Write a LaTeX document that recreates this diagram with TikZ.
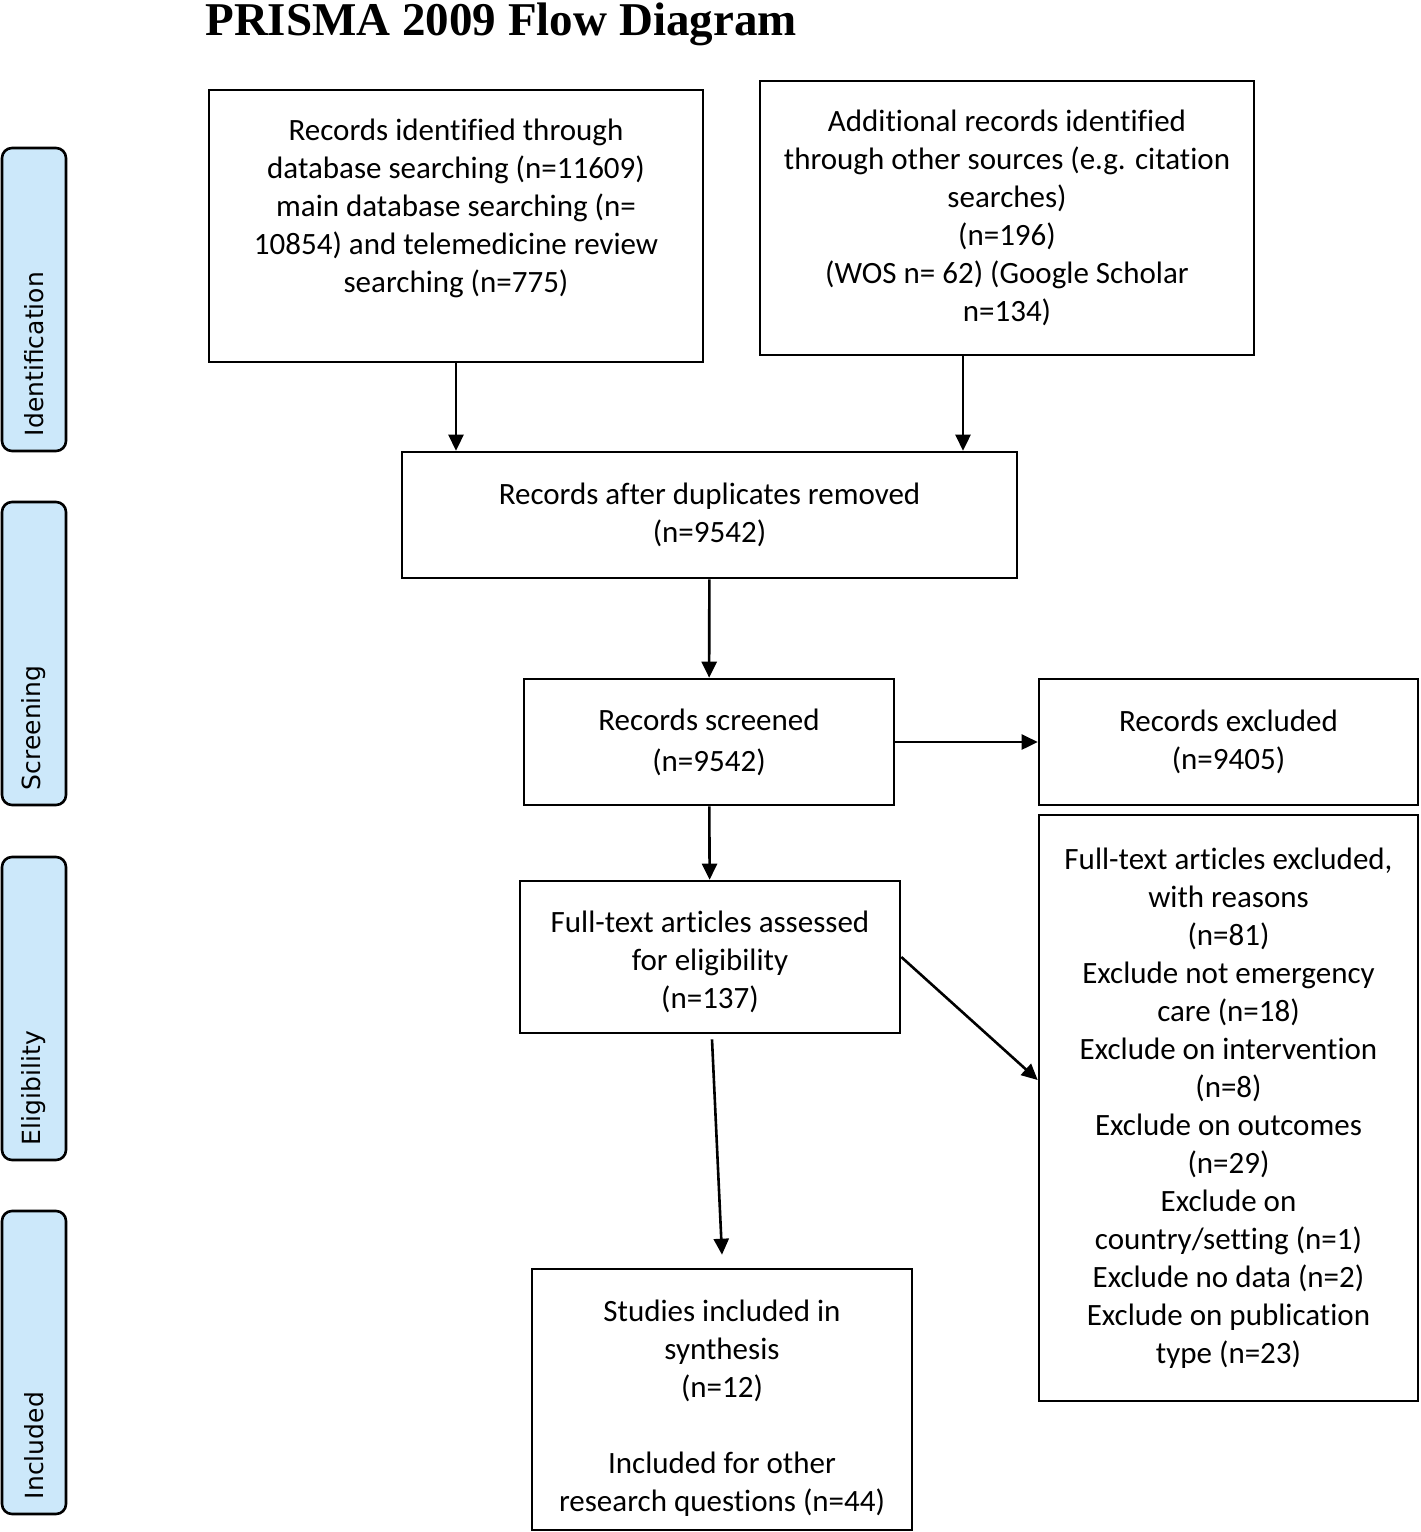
\documentclass[tikz,border=0pt]{standalone}
\usepackage{fontspec}
\setmainfont{Carlito}[Ligatures={NoCommon,NoContextual},RawFeature={-liga;-clig;-dlig;-calt}]
\newfontfamily\tabfont{DejaVu Sans}
\newfontfamily\titlefont{Liberation Serif}
\usetikzlibrary{arrows.meta,positioning}
\definecolor{tabblue}{RGB}{204,232,250}

\begin{document}
\begin{tikzpicture}[x=0.5pt,y=-0.5pt,>={Triangle[length=8pt,width=7.5pt]},line width=1.3pt,box/.style={draw,align=center,inner sep=2pt,font=\fontsize{15.5}{19}\selectfont},tab/.style={draw,fill=tabblue,rounded corners=5pt,minimum width=32pt,minimum height=151.5pt},tab label/.style={rotate=90,anchor=west,inner sep=0pt,font=\tabfont\fontsize{12.5}{15}\selectfont}]
                \useasboundingbox (0,0) rectangle (1420,1532);

                \node[anchor=base,font=\titlefont\bfseries\fontsize{23.5}{28}\selectfont] (0) at (501,35) {PRISMA 2009 Flow Diagram};

                \node[tab] (t1) at (34,299.5) {};
                \node[tab] (t2) at (34,653.5) {};
                \node[tab] (t3) at (34,1008.5) {};
                \node[tab] (t4) at (34,1362.5) {};
                \node[tab label] (l1) at ([yshift=7.5pt]t1.south) {Identification};
                \node[tab label] (l2) at ([yshift=7.5pt]t2.south) {Screening};
                \node[tab label] (l3) at ([yshift=7.5pt]t3.south) {Eligibility};
                \node[tab label] (l4) at ([yshift=7.5pt]t4.south) {Included};

                \node[box,minimum width=247pt,minimum height=136pt] (1) at (456,226) {\rule{0pt}{15pt}Records identified through\\database searching (n=11609)\\main database searching (n=\\10854) and telemedicine review\\searching (n=775)\\\strut};
                \node[box,minimum width=247pt,minimum height=137pt] (2) at (1007,218) {Additional records identified\\through other sources (e.g. citation\\searches)\\(n=196)\\(WOS n= 62) (Google Scholar\\n=134)};
                \node[box,minimum width=307.5pt,minimum height=63pt] (3) at (709.5,515) {Records after duplicates removed\\(n=9542)};
                \node[box,minimum width=185pt,minimum height=63pt] (4) at (709,742) {Records screened\\[1.5pt](n=9542)};
                \node[box,minimum width=189.5pt,minimum height=63pt] (5) at (1228.5,742) {Records excluded\\(n=9405)};
                \node[box,minimum width=190pt,minimum height=76pt] (6) at (710,957) {\rule{0pt}{16pt}Full-text articles assessed\\for eligibility\\(n=137)};
                \node[box,minimum width=189.5pt,minimum height=293pt] (7) at (1228.5,1108) {Full-text articles excluded,\\with reasons\\(n=81)\\Exclude not emergency\\care (n=18)\\Exclude on intervention\\(n=8)\\Exclude on outcomes\\(n=29)\\Exclude on\\country/setting (n=1)\\Exclude no data (n=2)\\Exclude on publication\\type (n=23)};
                \node[box,minimum width=190pt,minimum height=130.5pt] (8) at (722,1399.5) {\rule{0pt}{19pt}Studies included in\\synthesis\\(n=12)\\\strut\\Included for other\\research questions (n=44)};

                \coordinate (b2) at ([xshift=-22pt]2.south);

                \path[->]
                    (1) edge (1 |- 3.north)
                    (b2) edge (b2 |- 3.north)
                    (3) edge (4)
                    (4) edge (5)
                    (4) edge (6)
                    (6.east) edge ([yshift=14pt]7.west)
                    ([xshift=1pt,yshift=-2.5pt]6.south) edge ([yshift=6.5pt]8.north)
                ;
            \end{tikzpicture}
\end{document}
